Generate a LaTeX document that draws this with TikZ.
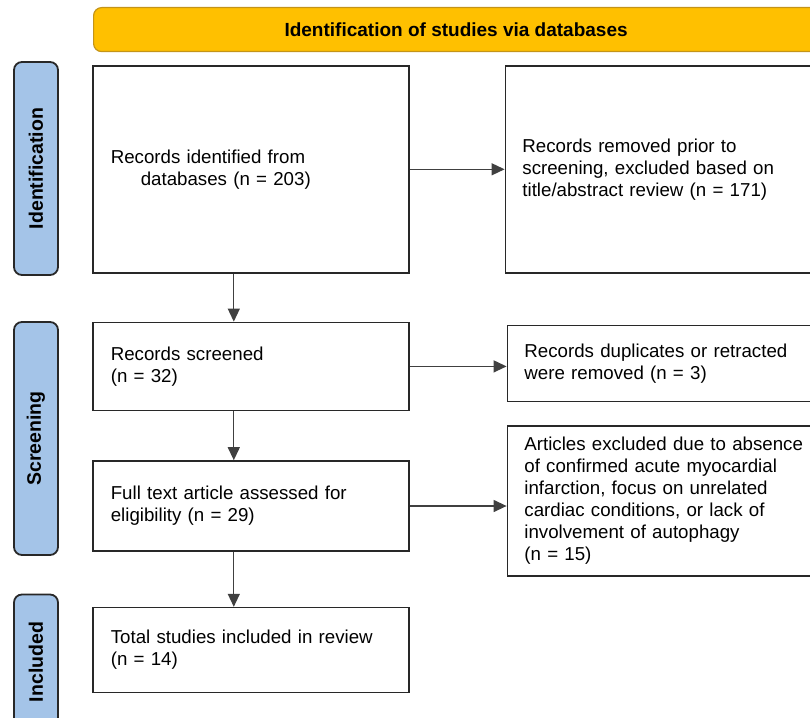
\documentclass[tikz,border=0pt]{standalone}
\usepackage{fontspec}
\setmainfont{Liberation Sans}
\usetikzlibrary{arrows.meta, positioning}
\definecolor{bannergold}{RGB}{255,192,0}
\definecolor{bannerrim}{RGB}{196,148,24}
\definecolor{stageblue}{RGB}{164,196,232}
\definecolor{rimgray}{RGB}{40,40,40}
\tikzset{
  box/.style={draw=rimgray, line width=1.6pt, fill=white, minimum width=316pt, text width=280pt,
    inner xsep=17pt, align=left, font=\fontsize{18.7}{22}\selectfont},
  sidebox/.style={box, minimum width=330pt, text width=296pt},
  stage/.style={draw=rimgray, line width=1.8pt, rounded corners=8pt, fill=stageblue,
    minimum height=44pt, rotate=90, font=\bfseries\fontsize{19.5}{22}\selectfont},
  banner/.style={draw=bannerrim, line width=1.2pt, rounded corners=8pt, fill=bannergold,
    minimum width=725pt, minimum height=44pt, font=\bfseries\fontsize{19}{22}\selectfont},
  arr/.style={-{Triangle[length=13pt, width=12pt]}, line width=1.3pt, draw=black!75, fill=black},
}

\begin{document}
\begin{tikzpicture}[x=1pt, y=-1pt]
    \useasboundingbox (0,0) rectangle (810,717);
    \clip (0,0) rectangle (810,717);
    \node[banner, anchor=north west] (head) at (93,7) {Identification of studies via databases};
    % stage labels
    \node[stage, minimum width=213pt] (sIdent) at (36,168.5) {Identification};
    \node[stage, minimum width=233pt] (sScreen) at (36,438.5) {Screening};
    \node[stage, minimum width=135pt] (sIncl) at (36,662) {Included};
    % main column
    \node[box, minimum height=207pt, anchor=north west] (ident) at (92,65)
      {Records identified from\\\hspace*{30pt}databases (n = 203)};
    \node[box, minimum height=88pt, below=48pt of ident] (screen) {Records screened\\(n = 32)};
    \node[box, minimum height=90pt, below=49pt of screen] (full)
      {Full text article assessed for\\eligibility (n = 29)};
    \node[box, minimum height=85pt, below=55pt of full] (incl)
      {Total studies included in review\\(n = 14)};
    % exclusions
    \node[sidebox, minimum height=207pt, right=95pt of ident] (removed)
      {Records removed prior to\\screening, excluded based on\\title/abstract review (n = 171)};
    \node[sidebox, minimum height=76pt, right=97pt of screen, yshift=3pt] (dupes)
      {Records duplicates or retracted\\were removed (n = 3)};
    \node[sidebox, minimum height=150pt, right=97pt of full, yshift=5pt] (excl)
      {Articles excluded due to absence\\of confirmed acute myocardial\\infarction, focus on unrelated\\cardiac conditions, or lack of\\involvement of autophagy\\(n = 15)};
    \draw[arr] ([xshift=-17pt]ident.south) -- ([xshift=-17pt]screen.north);
    \draw[arr] ([xshift=-17pt]screen.south) -- ([xshift=-17pt]full.north);
    \draw[arr] ([xshift=-17pt]full.south) -- ([xshift=-17pt]incl.north);
    \draw[arr] (ident.east) -- (removed.west);
    \draw[arr] (screen.east) -- (screen.east -| dupes.west);
    \draw[arr] (full.east) -- (full.east -| excl.west);
\end{tikzpicture}
\end{document}
